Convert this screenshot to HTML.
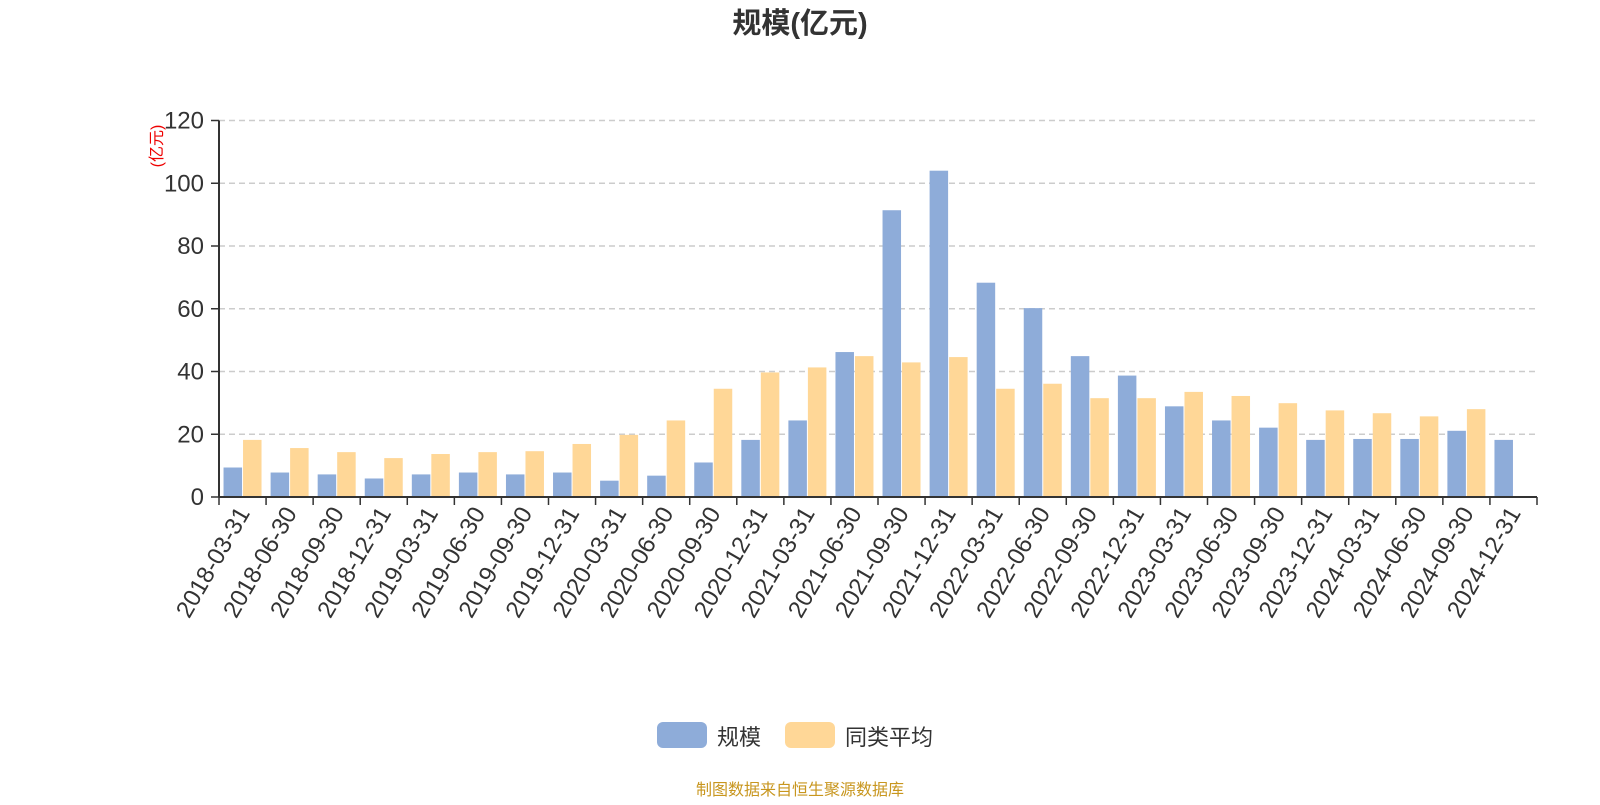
<!DOCTYPE html>
<html><head><meta charset="utf-8"><style>
body{margin:0;background:#fff;width:1600px;height:800px;overflow:hidden;font-family:"Liberation Sans","Noto Sans CJK SC",sans-serif}
</style></head><body>
<svg id="chart" width="1600" height="800" xmlns="http://www.w3.org/2000/svg" font-family="Liberation Sans, Noto Sans CJK SC, sans-serif">
<text x="800" y="33" text-anchor="middle" font-size="29" font-weight="bold" fill="#333">规模(亿元)</text>
<text transform="translate(162,146) rotate(-90)" text-anchor="middle" font-size="16" fill="#e00">(亿元)</text>
<g id="grid"></g><g id="bars"></g><g id="axes"></g>
<g>
<rect x="657" y="722" width="50" height="26" rx="6" fill="#8eacd9"/>
<text x="717" y="745" font-size="22" fill="#333">规模</text>
<rect x="785" y="722" width="50" height="26" rx="6" fill="#ffd797"/>
<text x="845" y="745" font-size="22" fill="#333">同类平均</text>
</g>
<text x="800" y="795" text-anchor="middle" font-size="16" fill="#c8961e">制图数据来自恒生聚源数据库</text>
</svg>
<script>
const categories=["2018-03-31","2018-06-30","2018-09-30","2018-12-31","2019-03-31","2019-06-30","2019-09-30","2019-12-31","2020-03-31","2020-06-30","2020-09-30","2020-12-31","2021-03-31","2021-06-30","2021-09-30","2021-12-31","2022-03-31","2022-06-30","2022-09-30","2022-12-31","2023-03-31","2023-06-30","2023-09-30","2023-12-31","2024-03-31","2024-06-30","2024-09-30","2024-12-31"];
const sizeValues=[9.4,7.8,7.2,5.9,7.2,7.8,7.2,7.8,5.2,6.8,11,18.2,24.4,46.2,91.4,104,68.3,60.2,44.9,38.7,28.9,24.4,22.1,18.2,18.5,18.5,21.1,18.2];
const avgValues=[18.2,15.6,14.3,12.4,13.7,14.3,14.6,16.9,19.8,24.4,34.5,39.7,41.3,44.9,42.9,44.6,34.5,36.1,31.5,31.5,33.5,32.2,29.9,27.6,26.7,25.7,28,null];
const yTicks=[0,20,40,60,80,100,120];
const NS="http://www.w3.org/2000/svg";
const x0=219,x1=1537,yb=497,yt=120.5,ymax=120;
const band=(x1-x0)/categories.length;
function y(v){return yb-(v/ymax)*(yb-yt);}
function bx(i){return x0+i*band;}
function mk(tag,attrs,parent){const e=document.createElementNS(NS,tag);for(const k in attrs)e.setAttribute(k,attrs[k]);parent.appendChild(e);return e;}
const grid=document.getElementById('grid'),bars=document.getElementById('bars'),axes=document.getElementById('axes');
yTicks.forEach(t=>{
  if(t>0){const l=mk('line',{x1:x0,x2:x1,y1:y(t),y2:y(t),stroke:'#ccc','stroke-width':1.5,'stroke-dasharray':'6,4'},grid);
  
  }
  const tk=mk('line',{x1:x0-8,x2:x0,y1:y(t),y2:y(t),stroke:'#333','stroke-width':1.5},axes);
  
  
  const tx=mk('text',{x:x0-15,y:y(t)+8,'text-anchor':'end','font-size':24,fill:'#333'},axes);
  tx.textContent=t;
  
  
});
const bw=18.5;
categories.forEach((c,i)=>{
  const cx=bx(i)+band/2;
  if(sizeValues[i]!=null){const r=mk('rect',{x:cx-bw-0.5,y:y(sizeValues[i]),width:bw,height:yb-y(sizeValues[i]),fill:'#8eacd9'},bars);
  
  }
  if(avgValues[i]!=null){const r=mk('rect',{x:cx+0.5,y:y(avgValues[i]),width:bw,height:yb-y(avgValues[i]),fill:'#ffd797'},bars);
  
  }
  const tk=mk('line',{x1:bx(i),x2:bx(i),y1:yb,y2:yb+8,stroke:'#333','stroke-width':1.5},axes);
  
  
  const tx=mk('text',{transform:`translate(${cx+8},${yb+16}) rotate(-60)`,'text-anchor':'end','font-size':24,fill:'#333'},axes);
  tx.textContent=c;
  
  
});
const lt=mk('line',{x1:x1,x2:x1,y1:yb,y2:yb+8,stroke:'#333','stroke-width':1.5},axes);


const xa=mk('line',{x1:x0,x2:x1,y1:yb,y2:yb,stroke:'#333','stroke-width':2},axes);


const ya=mk('line',{x1:x0,x2:x0,y1:yt,y2:yb,stroke:'#333','stroke-width':2},axes);


</script>
</body></html>
